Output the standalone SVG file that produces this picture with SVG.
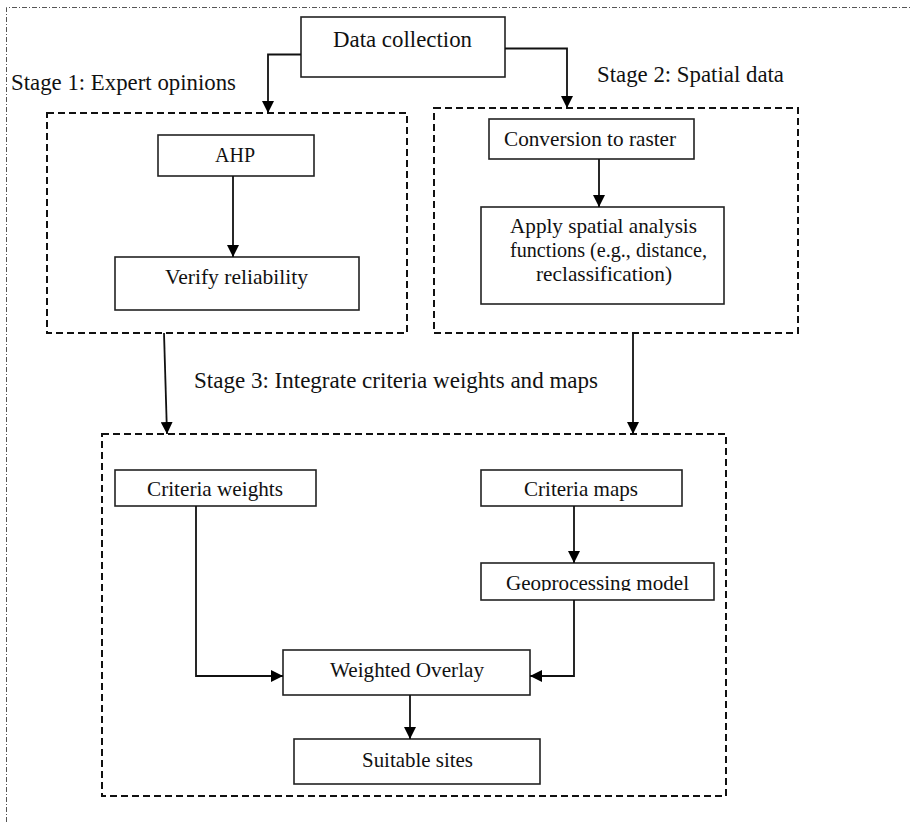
<svg xmlns="http://www.w3.org/2000/svg" width="910" height="822" viewBox="0 0 910 822">
<style>
.box{fill:#fff;stroke:#222;stroke-width:1.6}
.stage{fill:none;stroke:#111;stroke-width:2;stroke-dasharray:7,4}
.frame{fill:none;stroke:#555;stroke-width:1;stroke-dasharray:5,2,1,2}
.conn{fill:none;stroke:#111;stroke-width:1.8}
text{font-family:"Liberation Serif","Times New Roman",serif;font-size:21px;fill:#111}
.lbl{font-size:22.5px}
</style>
<defs>
<marker id="ah" markerUnits="userSpaceOnUse" markerWidth="12" markerHeight="12" viewBox="0 0 12 12" refX="12" refY="6" orient="auto">
<path d="M0,0 L12,6 L0,12 Z" fill="#000"/>
</marker>
<clipPath id="gpclip"><rect x="481" y="563" width="233" height="28"/></clipPath>
</defs>
<rect width="910" height="822" fill="#fff"/>
<path class="frame" d="M6.5,822 V7.5 H910"/>

<g id="stage1">
<rect class="stage" x="47" y="113" width="360" height="220"/>
<text class="lbl" x="11" y="90" textLength="225" lengthAdjust="spacingAndGlyphs">Stage 1: Expert opinions</text>
</g>
<g id="stage2">
<rect class="stage" x="434" y="108" width="364" height="225"/>
<text class="lbl" x="597" y="82" textLength="187" lengthAdjust="spacingAndGlyphs">Stage 2: Spatial data</text>
</g>
<g id="stage3">
<rect class="stage" x="102" y="434" width="624" height="362"/>
<text class="lbl" x="194" y="388" textLength="404" lengthAdjust="spacingAndGlyphs">Stage 3: Integrate criteria weights and maps</text>
</g>

<g id="data-collection">
<rect class="box" x="301" y="17" width="204" height="60"/>
<text class="lbl" x="333" y="47" textLength="139" lengthAdjust="spacingAndGlyphs">Data collection</text>
</g>
<g id="ahp">
<rect class="box" x="158" y="135" width="156" height="41"/>
<text x="215" y="162" textLength="40" lengthAdjust="spacingAndGlyphs">AHP</text>
</g>
<g id="verify">
<rect class="box" x="115" y="257" width="244" height="53"/>
<text x="165" y="284" textLength="143" lengthAdjust="spacingAndGlyphs">Verify reliability</text>
</g>
<g id="conversion">
<rect class="box" x="489" y="119" width="205" height="40"/>
<text x="504" y="146" textLength="172" lengthAdjust="spacingAndGlyphs">Conversion to raster</text>
</g>
<g id="apply">
<rect class="box" x="481" y="207" width="243" height="97"/>
<text x="510" y="233" textLength="187" lengthAdjust="spacingAndGlyphs">Apply spatial analysis</text>
<text x="510" y="257" textLength="197" lengthAdjust="spacingAndGlyphs">functions (e.g., distance,</text>
<text x="536" y="281" textLength="136" lengthAdjust="spacingAndGlyphs">reclassification)</text>
</g>
<g id="criteria-weights">
<rect class="box" x="115" y="470" width="201" height="36"/>
<text x="147" y="496" textLength="136" lengthAdjust="spacingAndGlyphs">Criteria weights</text>
</g>
<g id="criteria-maps">
<rect class="box" x="481" y="470" width="201" height="36"/>
<text x="524" y="496" textLength="114" lengthAdjust="spacingAndGlyphs">Criteria maps</text>
</g>
<g id="geoprocessing">
<rect class="box" x="481" y="563" width="233" height="37"/>
<text x="506" y="590" textLength="183" lengthAdjust="spacingAndGlyphs" clip-path="url(#gpclip)">Geoprocessing model</text>
</g>
<g id="weighted-overlay">
<rect class="box" x="283" y="650" width="247" height="45"/>
<text x="330" y="677" textLength="154" lengthAdjust="spacingAndGlyphs">Weighted Overlay</text>
</g>
<g id="suitable-sites">
<rect class="box" x="294" y="739" width="246" height="45"/>
<text x="362" y="767" textLength="111" lengthAdjust="spacingAndGlyphs">Suitable sites</text>
</g>

<g id="connectors">
<path class="conn" d="M301,54.5 H268 V113" marker-end="url(#ah)"/>
<path class="conn" d="M505,48.5 H567 V108" marker-end="url(#ah)"/>
<path class="conn" d="M233,176 V257" marker-end="url(#ah)"/>
<path class="conn" d="M599,159 V207" marker-end="url(#ah)"/>
<path class="conn" d="M164,333 L167,434" marker-end="url(#ah)"/>
<path class="conn" d="M633,333 V434" marker-end="url(#ah)"/>
<path class="conn" d="M196,506 V676 H283" marker-end="url(#ah)"/>
<path class="conn" d="M574,506 V563" marker-end="url(#ah)"/>
<path class="conn" d="M574,600 V676 H530" marker-end="url(#ah)"/>
<path class="conn" d="M410,695 V739" marker-end="url(#ah)"/>
</g>
</svg>
